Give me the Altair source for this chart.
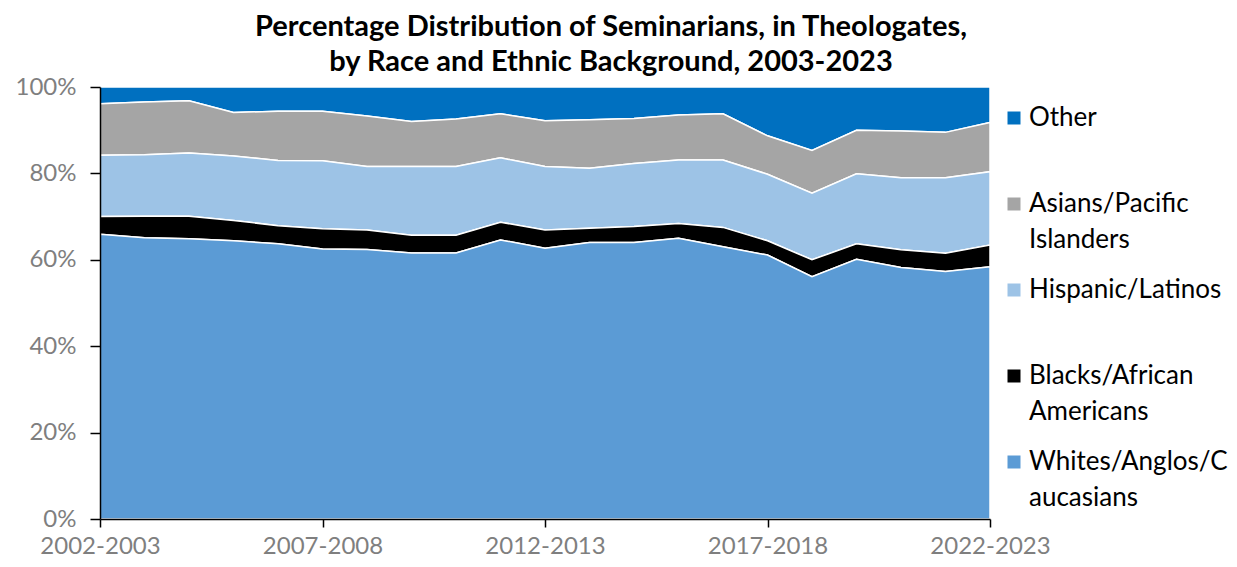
import altair as alt
import pandas as pd

years = ["2002-2003", "2003-2004", "2004-2005", "2005-2006", "2006-2007", "2007-2008",
         "2008-2009", "2009-2010", "2010-2011", "2011-2012", "2012-2013", "2013-2014",
         "2014-2015", "2015-2016", "2016-2017", "2017-2018", "2018-2019", "2019-2020",
         "2020-2021", "2021-2022", "2022-2023"]
whites = [65.9, 65.1, 64.9, 64.4, 63.7, 62.5, 62.4, 61.6, 61.6, 64.6, 62.7,
          64.0, 64.0, 65.0, 63.0, 61.1, 56.1, 60.1, 58.2, 57.3, 58.4]
blacks = [4.1, 5.0, 5.2, 4.7, 4.2, 4.7, 4.5, 4.1, 4.1, 4.1, 4.2,
          3.3, 3.7, 3.4, 4.5, 3.3, 3.9, 3.6, 4.1, 4.2, 5.0]
hispanics = [14.2, 14.2, 14.6, 14.9, 15.1, 15.7, 14.7, 15.9, 15.9, 14.9, 14.7,
             13.9, 14.6, 14.7, 15.6, 15.4, 15.4, 16.2, 16.7, 17.5, 17.0]
asians = [11.9, 12.2, 12.1, 10.1, 11.4, 11.5, 11.7, 10.4, 11.0, 10.2, 10.6,
          11.2, 10.4, 10.4, 10.7, 8.9, 9.9, 10.1, 10.8, 10.5, 11.4]
other = [3.9, 3.5, 3.2, 5.9, 5.6, 5.6, 6.7, 8.0, 7.4, 6.2, 7.8,
         7.6, 7.3, 6.5, 6.2, 11.3, 14.7, 10.0, 10.2, 10.5, 8.2]

groups = ["Other", "Asians/Pacific Islanders", "Hispanic/Latinos",
          "Blacks/African Americans", "Whites/Anglos/Caucasians"]
legend_lines = [["Other"], ["Asians/Pacific", "Islanders"], ["Hispanic/Latinos"],
                ["Blacks/African", "Americans"], ["Whites/Anglos/C", "aucasians"]]
colors = ["#0070C0", "#A5A5A5", "#9DC3E6", "#000000", "#5B9BD5"]
stack_rank = [4, 3, 2, 1, 0]
x_tick_years = ["2002-2003", "2007-2008", "2012-2013", "2017-2018", "2022-2023"]
y_ticks = [0, 20, 40, 60, 80, 100]

rows = []
for series, name, rank in zip([other, asians, hispanics, blacks, whites], groups, stack_rank):
    for yr, v in zip(years, series):
        rows.append({"year": yr, "group": name, "value": v, "rank": rank})
df = pd.DataFrame(rows)

label_expr = ""
for name, lines in zip(groups, legend_lines):
    arr = "[" + ", ".join("'" + l + "'" for l in lines) + "]"
    label_expr += f"datum.label == '{name}' ? {arr} : "
label_expr += "datum.label"

FONT = "Lato"

chart = alt.Chart(df).mark_area(stroke="white", strokeWidth=1.5, opacity=1).encode(
    x=alt.X("year:O", sort=years,
            scale=alt.Scale(type="point", padding=0),
            axis=alt.Axis(title=None, values=x_tick_years, labelAngle=0,
                          labelFont=FONT, labelFontSize=24, labelColor="#7F7F7F",
                          labelPadding=7, tickSize=8, tickColor="black", tickWidth=1.5,
                          domainColor="black", domainWidth=1.5, zindex=1)),
    y=alt.Y("value:Q", stack="zero",
            scale=alt.Scale(domain=[0, 100], nice=False, zero=True),
            axis=alt.Axis(title=None, values=y_ticks, labelExpr="datum.value + '%'",
                          grid=False, labelFont=FONT, labelFontSize=24, labelColor="#7F7F7F",
                          labelPadding=14, tickSize=10, tickColor="black", tickWidth=1.5,
                          domainColor="black", domainWidth=1.5, zindex=1)),
    color=alt.Color("group:N",
                    scale=alt.Scale(domain=groups, range=colors),
                    legend=alt.Legend(title=None, orient="none", legendX=901, legendY=18,
                                      direction="vertical", symbolType="square",
                                      symbolSize=169, symbolStrokeWidth=0,
                                      symbolOpacity=1,
                                      labelFont=FONT, labelFontSize=26, labelColor="black",
                                      labelExpr=label_expr, labelOffset=2, labelLimit=400,
                                      gridAlign="all", rowPadding=24, padding=0)),
    order=alt.Order("rank:Q", sort="ascending"),
).properties(
    width=890,
    height=432,
    autosize=alt.AutoSizeParams(type="none"),
    padding={"left": 92, "top": 79, "right": 239, "bottom": 40},
    title=alt.TitleParams(
        text=["Percentage Distribution of Seminarians, in Theologates,",
              "by Race and Ethnic Background, 2003-2023"],
        font=FONT, fontSize=29, fontWeight="bold", color="black",
        anchor="middle", dx=66, offset=-2, lineHeight=35),
).configure(
    style={"guide-label": {"lineHeight": 36}}
).configure_view(stroke=None)

chart.save("out.html", embed_options={"renderer": "svg", "actions": False})
